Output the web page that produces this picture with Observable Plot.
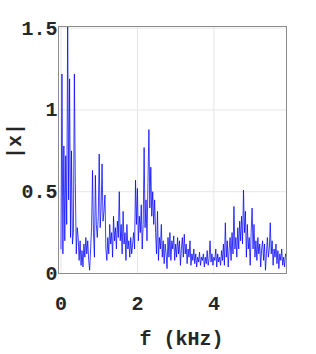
<!DOCTYPE html>
<html><head><meta charset="utf-8">
<script src="https://cdn.jsdelivr.net/npm/d3@7"></script>
<script src="https://cdn.jsdelivr.net/npm/@observablehq/plot@0.6"></script>
<style>body{margin:0;background:#fff} svg{display:block}</style>
</head><body><div id="chart"></div>
<script>
const fStart = 0;
const fStep = 0.025;
const magnitude = [
 0.15,1.22,0.12,0.78,0.20,0.72,0.30,1.55,0.45,1.19,
 0.22,0.75,0.18,0.25,1.22,0.55,0.12,0.28,0.22,0.08,
 0.20,0.05,0.14,0.04,0.18,0.10,0.22,0.12,0.20,0.08,
 0.02,0.15,0.28,0.63,0.25,0.10,0.60,0.30,0.22,0.35,
 0.73,0.28,0.40,0.67,0.32,0.38,0.48,0.15,0.08,0.22,
 0.12,0.30,0.18,0.25,0.10,0.35,0.20,0.28,0.15,0.32,
 0.22,0.50,0.20,0.30,0.12,0.38,0.18,0.25,0.08,0.30,
 0.15,0.20,0.10,0.22,0.12,0.18,0.25,0.15,0.57,0.30,
 0.52,0.20,0.35,0.25,0.42,0.15,0.30,0.77,0.28,0.45,
 0.20,0.55,0.88,0.40,0.65,0.35,0.50,0.30,0.45,0.25,
 0.12,0.38,0.08,0.22,0.15,0.30,0.10,0.20,0.06,0.18,
 0.12,0.03,0.22,0.10,0.25,0.08,0.20,0.15,0.23,0.08,
 0.18,0.10,0.22,0.12,0.20,0.05,0.15,0.22,0.10,0.24,
 0.12,0.18,0.06,0.15,0.10,0.20,0.05,0.12,0.08,0.15,
 0.06,0.12,0.04,0.10,0.07,0.13,0.05,0.10,0.08,0.12,
 0.04,0.10,0.06,0.14,0.05,0.09,0.20,0.07,0.12,0.05,
 0.10,0.08,0.15,0.04,0.12,0.07,0.10,0.05,0.14,0.08,
 0.18,0.05,0.31,0.10,0.20,0.04,0.15,0.22,0.08,0.25,
 0.12,0.41,0.15,0.22,0.10,0.28,0.15,0.32,0.20,0.35,
 0.18,0.51,0.25,0.38,0.10,0.30,0.15,0.22,0.05,0.25,
 0.40,0.15,0.30,0.10,0.20,0.08,0.22,0.12,0.18,0.04,
 0.15,0.20,0.08,0.18,0.02,0.12,0.22,0.10,0.15,0.31,
 0.12,0.20,0.05,0.15,0.10,0.18,0.06,0.14,0.03,0.12,
 0.08,0.15,0.05,0.10,0.04,0.12,0.10
];
const xTicks = [0, 2, 4];
const yTicks = [0, 0.5, 1, 1.5];
const xLabel = "f (kHz)";
const yLabel = "|x|";

const data = magnitude.map((m, i) => ({f: fStart + i * fStep, m}));
const font = "'Liberation Mono', 'DejaVu Sans Mono', monospace";
const fmt = d => String(d);

const chart = Plot.plot({
  width: 316, height: 354,
  marginLeft: 58, marginRight: 30, marginTop: 26, marginBottom: 81,
  style: {fontFamily: font, fontSize: "20px", fontWeight: "bold", background: "#fff", color: "#262626", overflow: "visible"},
  x: {domain: [-0.065, 5.9]},
  y: {domain: [0, 1.51]},
  marks: [
    Plot.gridX(xTicks, {stroke: "#e6e6e6", strokeOpacity: 1}),
    Plot.gridY(yTicks, {stroke: "#e6e6e6", strokeOpacity: 1}),
    Plot.lineY(data, {x: "f", y: "m", stroke: "#0000ff", strokeWidth: 0.75, clip: true}),
    Plot.frame({stroke: "#8c8c8c"}),
    Plot.axisX(xTicks, {tickSize: 0, tickPadding: 22, label: null, tickFormat: fmt, fontSize: 20, fontWeight: "bold"}),
    Plot.axisY(yTicks, {tickSize: 0, tickPadding: 1, label: null, tickFormat: fmt, fontSize: 20, fontWeight: "bold"}),
    Plot.text([xLabel], {frameAnchor: "bottom", dy: 71, dx: 9, fontSize: 20, fontWeight: "bold", fill: "#262626"}),
    Plot.text([yLabel], {frameAnchor: "left", rotate: -90, dx: -44, dy: 9, fontSize: 20, fontWeight: "bold", fill: "#262626"})
  ]
});
document.getElementById("chart").appendChild(chart);
</script>
</body></html>
